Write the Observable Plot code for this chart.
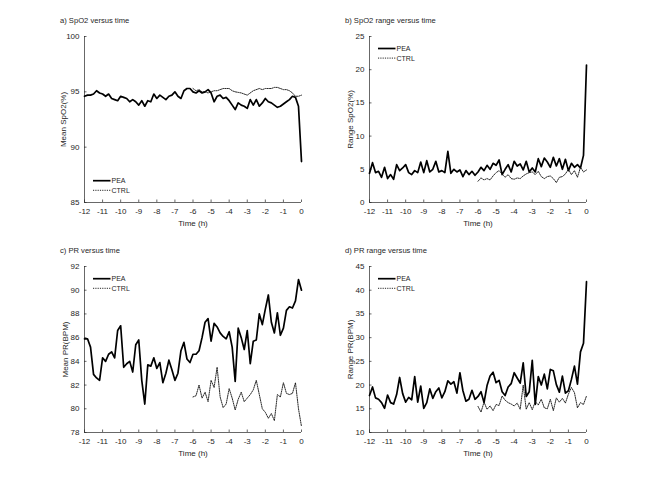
<!DOCTYPE html>
<html><head><meta charset="utf-8">
<script src="https://cdn.jsdelivr.net/npm/d3@7"></script>
<script src="https://cdn.jsdelivr.net/npm/@observablehq/plot@0.6"></script>
<style>
body{margin:0;background:#fff;}
#fig{position:relative;width:648px;height:485px;font-family:"Liberation Sans",Arial,Helvetica,sans-serif;color:#262626;overflow:hidden;}
.panel{position:absolute;}
.title{position:absolute;font-size:7.6px;line-height:10px;white-space:nowrap;}
#leg{position:absolute;left:0;top:0;}
</style></head><body><div id="fig"></div>
<script>
const xTicks = [-12,-11,-10,-9,-8,-7,-6,-5,-4,-3,-2,-1,0];
const spo2MeanTicks = [85,90,95,100];
const spo2RangeTicks = [0,5,10,15,20,25];
const prMeanTicks = [78,80,82,84,86,88,90,92];
const prRangeTicks = [10,15,20,25,30,35,40,45];
const seriesNames = ["PEA","CTRL"];

// PEA: -12 h to 0 h every 10 min; CTRL: -6 h to 0 h every 10 min
const spo2MeanPEA = [94.6,94.7,94.7,94.8,95.1,94.9,94.8,94.6,94.8,94.4,
94.3,94.2,94.6,94.5,94.4,94.1,94.3,94.1,93.8,94.2,
93.7,94.2,94.1,94.8,94.4,94.7,94.5,94.3,94.6,94.7,
95.0,94.6,94.4,95.1,95.3,95.3,95.0,94.9,95.1,94.9,
95.0,95.2,94.9,94.1,94.6,94.7,94.4,94.5,94.2,93.8,
93.4,94.0,93.8,93.7,93.5,94.3,93.8,94.3,93.7,94.0,
94.4,94.1,94.0,93.8,93.6,93.7,93.9,94.1,94.3,94.6,
94.5,93.7,88.7];
const spo2MeanCTRL = [95.3,95.1,95.2,95.0,95.0,94.9,95.0,95.1,95.1,95.2,
95.3,95.3,95.3,95.1,95.0,94.95,94.9,94.8,94.7,94.9,
95.1,95.2,95.3,95.2,95.3,95.3,95.3,95.4,95.4,95.3,
95.2,95.2,95.1,94.9,94.6,94.6,94.7];
const spo2RangePEA = [4.4,6.0,4.5,4.7,3.8,5.3,3.6,4.2,3.5,5.7,
4.8,5.2,5.7,4.5,4.2,4.8,4.5,6.1,4.5,6.3,
4.6,5.0,6.2,4.6,4.8,4.5,7.7,4.4,5.0,4.6,
4.9,3.9,4.8,4.2,4.7,4.1,4.6,5.3,4.8,5.6,
5.0,5.9,5.6,6.4,4.2,5.0,5.7,4.6,6.2,5.5,
5.8,4.9,6.2,4.6,5.2,4.6,6.6,5.4,6.7,6.1,
5.3,6.8,5.5,6.6,5.0,6.5,4.8,5.9,5.3,5.7,
5.2,7.1,20.7];
const spo2RangeCTRL = [3.2,3.7,3.4,3.6,3.4,4.0,4.5,4.8,4.3,3.8,
4.2,3.6,3.5,3.7,3.6,4.0,4.3,4.5,4.6,4.2,
4.7,3.9,3.6,3.9,4.0,3.6,3.0,3.8,3.9,4.3,
5.0,4.2,4.8,3.8,5.3,4.6,4.9];
const prMeanPEA = [85.9,85.9,85.2,82.9,82.6,82.4,84.3,84.0,84.6,84.8,
84.3,86.6,87.0,83.5,83.8,84.0,83.1,85.4,85.8,82.4,
80.4,83.7,83.6,84.3,83.4,83.9,82.2,83.0,84.1,83.3,
82.4,83.0,84.9,85.6,84.2,83.9,84.6,84.6,84.9,86.0,
87.3,87.6,85.7,87.2,86.9,86.4,86.1,85.9,86.5,85.2,
82.3,86.8,86.0,85.0,86.6,83.8,85.7,85.8,88.0,87.1,
88.4,89.6,87.3,86.4,88.1,86.2,86.8,88.3,88.6,88.5,
89.1,90.9,90.0];
const prMeanCTRL = [81.0,81.1,82.0,80.9,81.4,80.6,82.4,81.8,83.5,81.0,
80.1,80.4,81.7,80.9,79.9,80.8,81.4,80.6,80.9,81.2,
81.6,82.4,81.2,80.0,79.7,79.2,79.6,79.0,81.2,81.0,
82.2,81.3,81.2,81.3,82.2,80.0,78.5];
const prRangePEA = [17.8,19.6,17.3,17.0,16.3,15.1,17.9,16.3,16.0,18.0,
21.6,18.2,16.4,17.4,16.9,21.8,16.4,19.8,15.1,16.3,
19.2,17.2,18.6,19.4,17.3,18.6,20.9,20.2,20.7,18.3,
22.6,18.8,16.6,17.0,18.9,17.0,17.6,18.6,16.3,19.9,
21.9,22.7,20.5,21.0,18.6,17.8,19.6,20.3,22.6,21.5,
20.4,24.7,17.6,18.6,25.2,15.9,21.8,20.0,22.3,19.2,
23.3,23.0,20.1,18.5,21.9,18.3,18.8,21.2,24.0,20.2,
27.0,28.8,41.8];
const prRangeCTRL = [15.5,14.3,16.4,14.9,15.6,14.6,15.9,15.7,17.7,16.8,
16.3,16.0,15.6,16.2,14.9,20.0,14.9,16.3,14.8,16.5,
15.8,17.0,15.2,15.0,17.0,14.6,17.3,16.4,17.2,16.2,
18.1,19.5,18.4,15.2,16.3,15.9,17.7];

const hoursPEA = d3.range(-72, 1).map(i => i / 6);
const hoursCTRL = d3.range(-36, 1).map(i => i / 6);

const FONT = '"Liberation Sans", Arial, Helvetica, sans-serif';
const AX = "#262626";
const W = 310, H = 232, ML = 84, MR = 9, MT = 36, MB = 30;

const panels = [
  {left: 0, top: 0, title: "a) SpO2 versus time", yLabel: "Mean SpO2(%)", yDomain: [85, 100], yTicks: spo2MeanTicks, pea: spo2MeanPEA, ctrl: spo2MeanCTRL, legY: 180.7, labelOffset: 24},
  {left: 285, top: 0, title: "b) SpO2 range versus time", yLabel: "Range SpO2(%)", yDomain: [0, 25], yTicks: spo2RangeTicks, pea: spo2RangePEA, ctrl: spo2RangeCTRL, legY: 48.5, labelOffset: 22},
  {left: 0, top: 230, title: "c) PR versus time", yLabel: "Mean PR(BPM)", yDomain: [78, 92], yTicks: prMeanTicks, pea: prMeanPEA, ctrl: prMeanCTRL, legY: 48.7, labelOffset: 22.5},
  {left: 285, top: 230, title: "d) PR range versus time", yLabel: "Range PR(BPM)", yDomain: [10, 45], yTicks: prRangeTicks, pea: prRangePEA, ctrl: prRangeCTRL, legY: 48.7, labelOffset: 22}
];

const fig = document.getElementById("fig");
const ctrlStyle = {stroke: "#111", strokeWidth: 0.9, strokeDasharray: "1.2,1.1"};
const peaStyle = {stroke: "#000", strokeWidth: 1.7};

for (const p of panels) {
  const peaData = p.pea.map((v, i) => ({t: hoursPEA[i], v}));
  const ctrlData = p.ctrl.map((v, i) => ({t: hoursCTRL[i], v}));
  const chart = Plot.plot({
    width: W, height: H, marginLeft: ML, marginRight: MR, marginTop: MT, marginBottom: MB,
    style: {fontFamily: FONT, fontSize: "8px", color: "#262626", background: "transparent", overflow: "visible"},
    x: {domain: [-12, 0]},
    y: {domain: p.yDomain},
    marks: [
      Plot.ruleX([-12], {stroke: AX, strokeWidth: 0.7}),
      Plot.ruleY([p.yDomain[0]], {stroke: AX, strokeWidth: 0.7}),
      Plot.tickX(xTicks, {x: d => d, insetTop: H - MT - MB - 2.5, stroke: AX, strokeWidth: 0.7}),
      Plot.tickY(p.yTicks, {y: d => d, insetRight: W - ML - MR - 2.5, stroke: AX, strokeWidth: 0.7}),
      Plot.axisX({ticks: xTicks, tickSize: 0, tickPadding: 6, tickFormat: d => String(d), label: "Time (h)", labelAnchor: "center", labelOffset: 23, labelArrow: "none", fontSize: 8}),
      Plot.axisY({ticks: p.yTicks, tickSize: 0, tickPadding: 5, tickFormat: d => String(d), label: p.yLabel, labelAnchor: "center", labelOffset: p.labelOffset, labelArrow: "none", fontSize: 8}),
      Plot.line(peaData, {x: "t", y: "v", ...peaStyle}),
      Plot.line(ctrlData, {x: "t", y: "v", ...ctrlStyle})
    ]
  });
  const wrap = document.createElement("div");
  wrap.className = "panel";
  wrap.style.left = p.left + "px";
  wrap.style.top = p.top + "px";
  wrap.appendChild(chart);
  fig.appendChild(wrap);

  const t = document.createElement("div");
  t.className = "title";
  t.textContent = p.title;
  t.style.left = (p.left + 60) + "px";
  t.style.top = (p.top + 16) + "px";
  fig.appendChild(t);
}

// legends
const leg = d3.select(fig).append("svg").attr("id", "leg").attr("width", 648).attr("height", 485)
  .style("font-family", FONT).style("font-size", "7px").style("fill", "#262626");
for (const p of panels) {
  const x0 = p.left + ML + 9, x1 = x0 + 17.5;
  seriesNames.forEach((name, k) => {
    const y = p.top + p.legY + k * 9.6;
    const st = k === 0 ? peaStyle : ctrlStyle;
    leg.append("line").attr("x1", x0).attr("x2", x1).attr("y1", y).attr("y2", y)
      .attr("stroke", st.stroke).attr("stroke-width", st.strokeWidth)
      .attr("stroke-dasharray", st.strokeDasharray || null);
    leg.append("text").attr("x", x1 + 1).attr("y", y).attr("dy", "0.35em").text(name);
  });
}
</script></body></html>
